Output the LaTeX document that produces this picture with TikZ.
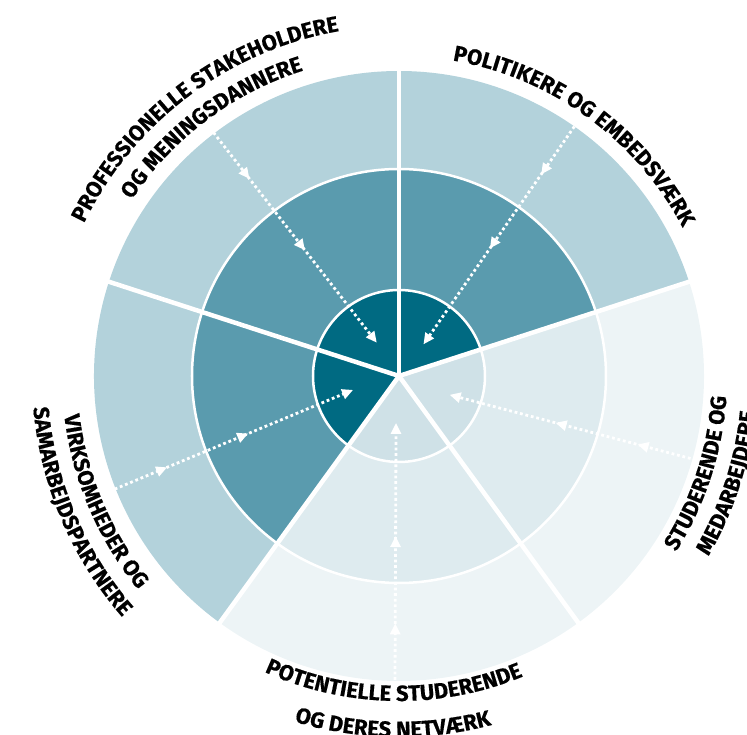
\documentclass[tikz,border=0pt]{standalone}
\usepackage{fontspec}
\newfontfamily\labelfam{Fira Sans}[BoldFeatures={FakeBold=0.5}]
\usepackage{xcolor}
\definecolor{tealdark}{RGB}{0,106,130}
\definecolor{tealmid}{RGB}{90,155,174}
\definecolor{teallight}{RGB}{179,210,219}
\definecolor{palein}{RGB}{207,225,231}
\definecolor{palemid}{RGB}{222,235,239}
\definecolor{paleout}{RGB}{237,244,246}
\usepackage{tikz}
\usetikzlibrary{arrows.meta}
\usetikzlibrary{decorations.markings}
\usetikzlibrary{decorations.text}
\newcommand\sectorfont{\labelfam\bfseries\fontsize{22}{26}\selectfont}

\begin{document}
\begin{tikzpicture}[x=1pt,y=1pt,
    flow/.style={white, line width=2.8pt, dash pattern=on 2.8pt off 2.8pt,
      -{Triangle[length=11pt,width=10pt]}, postaction={decorate},
      decoration={markings,
        mark=at position 0.22 with {\arrow{Triangle[length=11pt,width=10pt]}},
        mark=at position 0.56 with {\arrow{Triangle[length=11pt,width=10pt]}}}},
    sector label/.style={decorate, decoration={text along path, text align=center,
      text={|\sectorfont|#1}}}]
  \useasboundingbox (-399,-359) rectangle (348,376);
  \clip (-399,-359) rectangle (348,376);
  \coordinate (C) at (0,0);

  % five sectors, three rings each
  \foreach \a/\cin/\cmid/\cout in {18/tealdark/tealmid/teallight,
      90/tealdark/tealmid/teallight, 162/tealdark/tealmid/teallight,
      234/palein/palemid/paleout, 306/palein/palemid/paleout} {
    \fill[\cout] (C) -- (\a:305) arc[start angle=\a, delta angle=72, radius=305] -- cycle;
    \fill[\cmid] (C) -- (\a:207) arc[start angle=\a, delta angle=72, radius=207] -- cycle;
    \fill[\cin] (C) -- (\a:86) arc[start angle=\a, delta angle=72, radius=86] -- cycle;
  }
  \draw[white, line width=2.5pt] (C) circle[radius=86] (C) circle[radius=207];
  \foreach \a in {18,90,162,234,306}
    \draw[white, line width=4.5pt] (C) -- (\a:306);

  % arrows pointing in
  \coordinate (pol-out) at (54.9:305);
  \coordinate (pol-in) at (52.3:40);
  \coordinate (prof-out) at (127.3:306);
  \coordinate (prof-in) at (123.7:40);
  \coordinate (virk-out) at (201.7:306);
  \coordinate (virk-in) at (196.9:48);
  \coordinate (pot-out) at (-90.75:304);
  \coordinate (pot-in) at (-93.6:47);
  \coordinate (stud-out) at (-15.8:303);
  \coordinate (stud-in) at (-20.4:54);
  \foreach \g in {pol,prof,virk,pot,stud}
    \draw[flow] (\g-out) -- (\g-in);

  % labels round the rim
  \path[sector label={POLITIKERE OG EMBEDSVÆRK}]
    (94:320) arc[start angle=94, end angle=14, radius=320];
  \path[sector label={PROFESSIONELLE STAKEHOLDERE}]
    (167:350) arc[start angle=167, end angle=87, radius=350];
  \path[sector label={OG MENINGSDANNERE}]
    (167:320) arc[start angle=167, end angle=87, radius=320];
  \path[sector label={STUDERENDE OG}]
    (-58:328) arc[start angle=-58, end angle=22, radius=328];
  \path[sector label={MEDARBEJDERE}]
    (-58:358) arc[start angle=-58, end angle=22, radius=358];
  \path[sector label={POTENTIELLE STUDERENDE}]
    (-131:325) arc[start angle=-131, end angle=-51, radius=325];
  \path[sector label={OG DERES NETVÆRK}]
    (-131:361) arc[start angle=-131, end angle=-51, radius=361];
  \path[sector label={VIRKSOMHEDER OG}]
    (163:337) arc[start angle=163, end angle=243, radius=337];
  \path[sector label={SAMARBEJDSPARTNERE}]
    (163:367) arc[start angle=163, end angle=243, radius=367];
\end{tikzpicture}
\end{document}
